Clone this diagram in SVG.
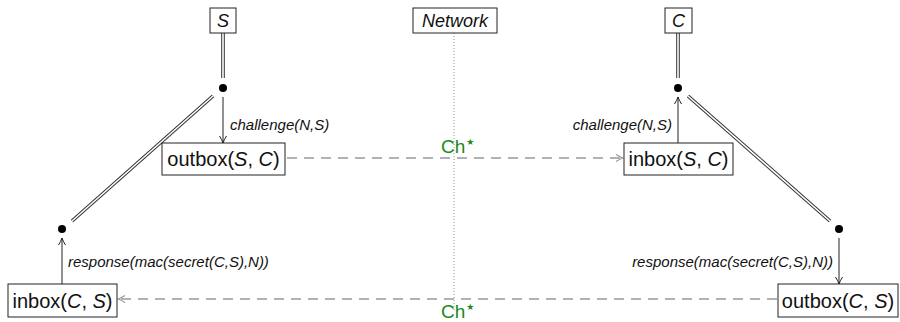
<svg xmlns="http://www.w3.org/2000/svg" width="900" height="322" viewBox="0 0 900 322">
<defs>
<style>
.box{fill:#fff;stroke:#222;stroke-width:1}
.t{font-family:"Liberation Sans",Arial,sans-serif;font-size:20px;fill:#111}
.ti{font-family:"Liberation Sans",Arial,sans-serif;font-size:18px;font-style:italic;fill:#111}
.lbl{font-family:"Liberation Sans",Arial,sans-serif;font-size:15px;font-style:italic;fill:#111}
.ch{font-family:"Liberation Sans",Arial,sans-serif;font-size:19px;fill:#1a8a1a}
.st{font-family:"DejaVu Sans",sans-serif;font-size:9px}
.dblo{fill:none;stroke:#333;stroke-width:3.6}
.dbli{fill:none;stroke:#fff;stroke-width:1.6}
.arr{fill:none;stroke:#222;stroke-width:1;marker-end:url(#ah)}
.dash{fill:none;stroke:#999;stroke-width:1.5;stroke-dasharray:10 7;marker-end:url(#dh)}
.dot{fill:#000}
</style>
<marker id="ah" viewBox="0 0 10 10" refX="9" refY="5" markerWidth="10" markerHeight="10" markerUnits="userSpaceOnUse" orient="auto">
<path d="M2,1.5 Q6,4 9,5 Q6,6 2,8.5" fill="none" stroke="#222" stroke-width="1"/>
</marker>
<marker id="dh" viewBox="0 0 10 10" refX="9" refY="5" markerWidth="10" markerHeight="10" markerUnits="userSpaceOnUse" orient="auto">
<path d="M2,1.5 Q6,4 9,5 Q6,6 2,8.5" fill="none" stroke="#999" stroke-width="1.3"/>
</marker>
</defs>
<rect width="900" height="322" fill="#fff"/>
<g id="connectors">
<line x1="454" y1="33" x2="454" y2="310" stroke="#777" stroke-width="0.8" stroke-dasharray="1 2"/>
<line class="dblo" x1="223" y1="33" x2="223" y2="78"/>
<line class="dbli" x1="223" y1="33" x2="223" y2="78"/>
<line class="dblo" x1="678" y1="33" x2="678" y2="78"/>
<line class="dbli" x1="678" y1="33" x2="678" y2="78"/>
<line class="dblo" x1="213" y1="96" x2="72" y2="221"/>
<line class="dbli" x1="213" y1="96" x2="72" y2="221"/>
<line class="dblo" x1="688" y1="96" x2="830" y2="221"/>
<line class="dbli" x1="688" y1="96" x2="830" y2="221"/>
<line class="arr" x1="223" y1="97" x2="223" y2="143"/>
<line class="arr" x1="678" y1="143" x2="678" y2="97"/>
<line class="arr" x1="62" y1="284" x2="62" y2="238"/>
<line class="arr" x1="839" y1="238" x2="839" y2="284"/>
<line class="dash" x1="287" y1="158" x2="623" y2="158"/>
<line class="dash" x1="777" y1="299" x2="118" y2="299"/>
<text class="lbl" x="230" y="130">challenge(N,S)</text>
<text class="lbl" x="672" y="130" text-anchor="end">challenge(N,S)</text>
<text class="lbl" x="68" y="267">response(mac(secret(C,S),N))</text>
<text class="lbl" x="833" y="267" text-anchor="end">response(mac(secret(C,S),N))</text>
<text class="ch" x="441" y="153">Ch<tspan class="st" dx="1" dy="-8">★</tspan></text>
<text class="ch" x="441" y="318">Ch<tspan class="st" dx="1" dy="-8">★</tspan></text>
</g>
<g id="nodeS"><rect class="box" x="210" y="8" width="26" height="25"/><text class="ti" x="223" y="27" text-anchor="middle">S</text></g>
<g id="nodeNetwork"><rect class="box" x="413" y="8" width="84" height="25"/><text class="ti" x="455" y="27" text-anchor="middle">Network</text></g>
<g id="nodeC"><rect class="box" x="665" y="8" width="27" height="25"/><text class="ti" x="678.5" y="27" text-anchor="middle">C</text></g>
<g id="dotS"><circle class="dot" cx="223" cy="88" r="4"/></g>
<g id="dotC"><circle class="dot" cx="678" cy="88" r="4"/></g>
<g id="dotL"><circle class="dot" cx="62" cy="229" r="4"/></g>
<g id="dotR"><circle class="dot" cx="839" cy="229" r="4"/></g>
<g id="outboxSC"><rect class="box" x="162" y="143" width="123" height="32"/><text class="t" x="223.5" y="166" text-anchor="middle">outbox(<tspan font-style="italic">S</tspan>, <tspan font-style="italic">C</tspan>)</text></g>
<g id="inboxSC"><rect class="box" x="624" y="143" width="109" height="32"/><text class="t" x="678.5" y="166" text-anchor="middle">inbox(<tspan font-style="italic">S</tspan>, <tspan font-style="italic">C</tspan>)</text></g>
<g id="inboxCS"><rect class="box" x="8" y="284" width="109" height="33"/><text class="t" x="62.5" y="308" text-anchor="middle">inbox(<tspan font-style="italic">C</tspan>, <tspan font-style="italic">S</tspan>)</text></g>
<g id="outboxCS"><rect class="box" x="778" y="284" width="120" height="33"/><text class="t" x="838" y="308" text-anchor="middle">outbox(<tspan font-style="italic">C</tspan>, <tspan font-style="italic">S</tspan>)</text></g>
</svg>
